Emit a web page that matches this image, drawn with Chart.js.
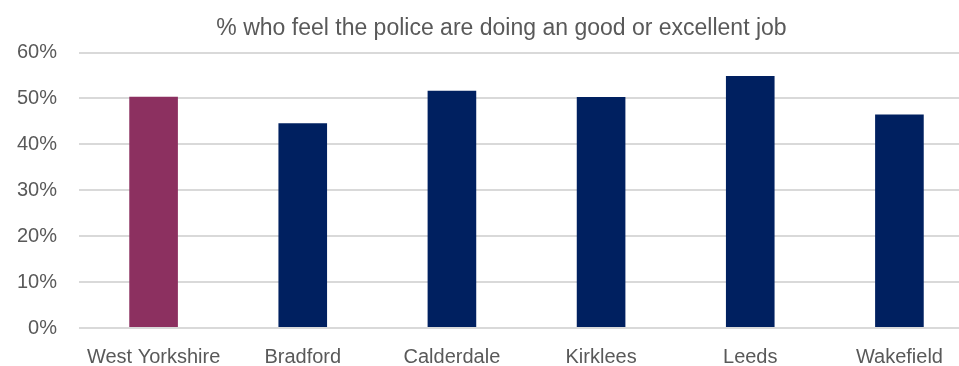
<!DOCTYPE html>
<html>
<head>
<meta charset="utf-8">
<script src="https://cdn.jsdelivr.net/npm/chart.js@4/dist/chart.umd.min.js"></script>
<style>
  html, body { margin: 0; padding: 0; background: #fff; overflow: hidden; }
  #wrap { width: 1003px; height: 366px; }
</style>
</head>
<body>
<div id="wrap"><canvas id="myChart" width="1003" height="366"></canvas></div>
<script>
var areas = ["West Yorkshire", "Bradford", "Calderdale", "Kirklees", "Leeds", "Wakefield"];
var goodOrExcellent = [50.4, 44.6, 51.7, 50.3, 54.9, 46.5];
var barColours = ["#8c3060", "#002060", "#002060", "#002060", "#002060", "#002060"];
var yTicks = [0, 10, 20, 30, 40, 50, 60];
var titel = "% who feel the police are doing an good or excellent job";

var grau = "#595959";
var schrift = "'Liberation Sans', Arial, sans-serif";

// y-Beschriftung ragt links über den Achsenrand hinaus -> nicht abschneiden
var yLabelsFrei = {
  id: "yLabelsFrei",
  beforeDraw: function (chart) {
    chart.scales.y.left = 0;
  },
};

new Chart("myChart", {
  type: "bar",
  data: {
    labels: areas,
    datasets: [
      {
        data: goodOrExcellent,
        backgroundColor: barColours,
        categoryPercentage: 1,
        barPercentage: 0.326,
      },
    ],
  },
  plugins: [yLabelsFrei],
  options: {
    responsive: false,
    animation: false,
    layout: { padding: { left: 29, right: 29, top: 0, bottom: 0 } },
    plugins: {
      legend: false,
      tooltip: { enabled: false },
      title: {
        display: true,
        text: titel,
        color: grau,
        font: { family: schrift, size: 23, weight: "normal" },
        padding: { top: 15, bottom: 10 },
      },
    },
    scales: {
      x: {
        grid: { display: false, drawTicks: false },
        border: { display: false },
        ticks: {
          color: grau,
          padding: 17,
          maxRotation: 0,
          font: { family: schrift, size: 20 },
        },
        afterFit: function (axis) {
          axis.paddingLeft = 0;
          axis.paddingRight = 0;
          axis.height = 38;
        },
      },
      y: {
        min: 0,
        max: 60,
        afterBuildTicks: function (axis) {
          axis.ticks = yTicks.map(function (v) { return { value: v }; });
        },
        grid: { color: "#d9d9d9", lineWidth: 2, drawTicks: false },
        border: { display: false },
        ticks: {
          color: grau,
          padding: 22,
          font: { family: schrift, size: 20 },
          callback: function (v) { return v + "%"; },
        },
        afterFit: function (axis) {
          axis.width = 50;
          axis.paddingTop = 0;
          axis.paddingBottom = 0;
        },
      },
    },
  },
});
</script>
</body>
</html>
